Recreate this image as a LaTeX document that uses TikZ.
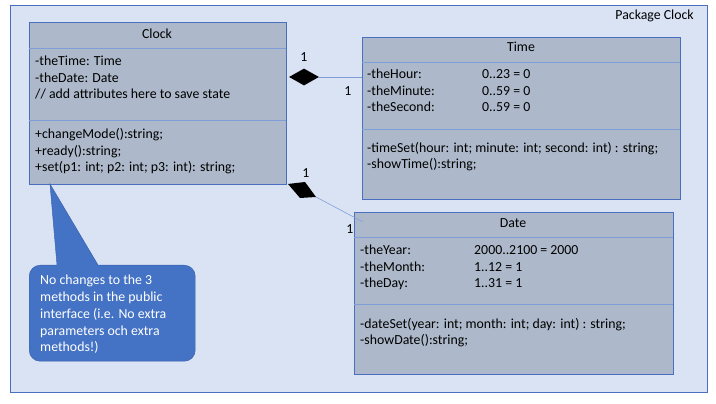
\documentclass[tikz,border=0pt]{standalone}
\usepackage{fontspec}
\setmainfont{Carlito}
\usetikzlibrary{shapes.geometric,positioning}

\definecolor{pkgfill}{HTML}{DAE3F3}
\definecolor{pkgline}{HTML}{4A6FBF}
\definecolor{classfill}{HTML}{ADB9CA}
\definecolor{sepline}{HTML}{7F9ED8}
\definecolor{notefill}{HTML}{4472C4}
\definecolor{noteline}{HTML}{3A62AE}

\newdimen\px \px=0.03cm
\newcommand{\umlfont}{\fontsize{11.8}{14.5}\selectfont}

\begin{document}
\begin{tikzpicture}[
    x=\px, y=-\px,
    classbox/.style={
        inner sep=0pt,
        rectangle,
        draw=pkgline,
        fill=classfill,
        anchor=north west,
    },
    every node/.style={
        font=\umlfont,
    },
    compart/.style={inner sep=0pt,anchor=base west,align=left},
    sep/.style={draw=sepline,line width=0.5pt},
    assoc/.style={draw=sepline,line width=0.5pt},
    mult/.style={inner sep=0pt,anchor=base},
]
    \useasboundingbox (0,0) rectangle (716,404);
    % package frame
    \node[inner sep=0pt,rectangle,draw=pkgline,fill=pkgfill,anchor=north west,minimum width=697\px,minimum height=387\px,line width=0.7pt]
        (pkg) at (10,5) {};
    \node[inner sep=0pt,anchor=base east] (pkglabel) at (694,20) {Package Clock};

    % Clock (multi-line nodes sit on their last baseline)
    \node[classbox,minimum width=257\px,minimum height=162\px] (clock) at (29,22) {};
    \node[inner sep=0pt,anchor=base] (clocktitle) at (157,39) {Clock};
    \draw[sep] (29,48) -- (286,48);
    \draw[sep] (29,120) -- (286,120);
    \node[compart] (clockattr) at (35,99) {-theTime: Time\\-theDate: Date\\// add attributes here to save state};
    \node[compart] (clockops) at (35,172) {+changeMode():string;\\+ready():string;\\+set(p1: int; p2: int; p3: int): string;};

    % Time
    \node[classbox,minimum width=318\px,minimum height=162\px] (time) at (362,37) {};
    \node[inner sep=0pt,anchor=base] (timetitle) at (521,52) {Time};
    \draw[sep] (362,62) -- (680,62);
    \draw[sep] (362,129) -- (680,129);
    \node[compart] (timeattr) at (367,112) {-theHour:\\-theMinute:\\-theSecond:};
    \node[compart] (timeval) at (482,112) {0..23 = 0\\0..59 = 0\\0..59 = 0};
    \node[compart] (timeops) at (367,169) {-timeSet(hour: int; minute: int; second: int) : string;\\-showTime():string;};

    % Date
    \node[classbox,minimum width=319\px,minimum height=162\px] (date) at (354,212) {};
    \node[inner sep=0pt,anchor=base] (datetitle) at (513,228) {Date};
    \draw[sep] (354,237) -- (673,237);
    \draw[sep] (354,304) -- (673,304);
    \node[compart] (dateattr) at (360,288) {-theYear:\\-theMonth:\\-theDay:};
    \node[compart] (dateval) at (474,288) {2000..2100 = 2000\\1..12 = 1\\1..31 = 1};
    \node[compart] (dateops) at (360,345) {-dateSet(year: int; month: int; day: int) : string;\\-showDate():string;};

    % compositions
    \node[diamond,fill=black,inner sep=0pt,minimum width=30\px,minimum height=17\px] (dtime) at (304,77) {};
    \draw[assoc] (dtime.east) -- (dtime.east -| time.west);
    \node[mult] (m1) at (304,62) {1};
    \node[mult] (m2) at (348,96) {1};

    \fill[black] (288,184) -- (305,182) -- (316,197) -- (300,198) -- cycle;
    \coordinate (ddate) at (316,197);
    \coordinate (dateend) at (363,222);
    \draw[assoc] (ddate) -- (dateend);
    \node[mult] (m3) at (306,178) {1};
    \node[mult] (m4) at (350,234) {1};

    % note
    \node[inner sep=0pt,rectangle,rounded corners=11\px,draw=noteline,fill=notefill,anchor=north west,minimum width=166\px,minimum height=96\px]
        (note) at (29,265) {};
    \coordinate (tip) at (50,184);
    \fill[notefill] (57.3,268) -- (tip) -- (99.8,268) -- cycle;
    \draw[noteline] (57,265) -- (tip) -- (98,265);
    \node[compart,text=white] (notetext) at (40,352) {No changes to the 3\\methods in the public\\interface (i.e. No extra\\parameters och extra\\methods!)};
\end{tikzpicture}
\end{document}
